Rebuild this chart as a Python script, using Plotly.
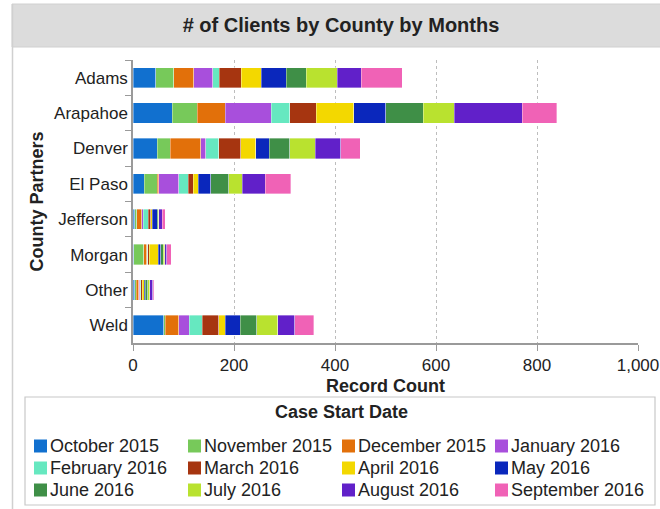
import plotly.graph_objects as go

counties = ["Adams", "Arapahoe", "Denver", "El Paso", "Jefferson", "Morgan", "Other", "Weld"]
months = ["October 2015", "November 2015", "December 2015", "January 2016",
          "February 2016", "March 2016", "April 2016", "May 2016",
          "June 2016", "July 2016", "August 2016", "September 2016"]

oct_2015 = [45, 78, 48, 22, 3, 1, 3, 61]
nov_2015 = [36, 49, 26, 26, 4, 20, 3, 3]
dec_2015 = [39, 56, 60, 3, 10, 6, 5, 27]
jan_2016 = [38, 91, 10, 40, 3, 1, 2, 20]
feb_2016 = [13, 36, 26, 18, 10, 1, 2, 26]
mar_2016 = [43, 53, 43, 10, 5, 3, 3, 33]
apr_2016 = [40, 74, 30, 10, 3, 18, 4, 13]
may_2016 = [49, 63, 27, 25, 10, 5, 2, 29]
jun_2016 = [40, 75, 40, 36, 2, 5, 5, 33]
jul_2016 = [61, 61, 51, 26, 1, 3, 4, 42]
aug_2016 = [48, 135, 50, 46, 7, 4, 6, 33]
sep_2016 = [81, 68, 39, 50, 6, 9, 2, 38]

series = [oct_2015, nov_2015, dec_2015, jan_2016, feb_2016, mar_2016,
          apr_2016, may_2016, jun_2016, jul_2016, aug_2016, sep_2016]

colors = ["#1170cf", "#77c95a", "#e2700a", "#a84fdc", "#66e8c0", "#a63510",
          "#f3d800", "#0a27bc", "#3f8f47", "#b9e22f", "#6120c9", "#f062b6"]

x_ticks = [0, 200, 400, 600, 800, 1000]
x_tick_labels = ["0", "200", "400", "600", "800", "1,000"]

W, H = 660, 509
ML, MR, MT, MB = 133, 22, 60, 166
PW, PH = W - ML - MR, H - MT - MB


def px_x(p):
    return (p - ML) / PW


def px_y(p):
    return (H - MB - p) / PH


FONT = "Liberation Sans, Arial, sans-serif"
TXT = "#222222"

fig = go.Figure()
for name, vals, col in zip(months, series, colors):
    fig.add_trace(go.Bar(
        y=counties, x=vals, name=name, orientation="h", showlegend=False,
        marker=dict(color=col, line=dict(width=0.6, color="rgba(255,255,255,0.6)")),
    ))

shapes = [
    dict(type="rect", xref="paper", yref="paper",
         x0=px_x(12), x1=px_x(662), y0=px_y(47), y1=px_y(4),
         fillcolor="#dcdcdc", line=dict(color="#d0d0d0", width=1), layer="below"),
    dict(type="line", xref="paper", yref="paper",
         x0=px_x(12.5), x1=px_x(12.5), y0=px_y(4), y1=px_y(512),
         line=dict(color="#d0d0d0", width=1.5)),
    # legend frame
    dict(type="rect", xref="paper", yref="paper",
         x0=px_x(25), x1=px_x(655), y0=px_y(505), y1=px_y(397),
         fillcolor="white", line=dict(color="#c8c8c8", width=1.2), layer="below"),
]

annotations = [
    dict(text="<b>Case Start Date</b>", xref="paper", yref="paper",
         x=px_x(341), y=px_y(412), xanchor="center", yanchor="middle",
         showarrow=False, font=dict(size=18, color=TXT)),
]

# custom legend laid out 4 columns x 3 rows (row-major)
col_text_x = [49, 203, 357, 510]
row_y = [446, 468, 490]
for i, (name, col) in enumerate(zip(months, colors)):
    r, c = divmod(i, 4)
    tx, ty = col_text_x[c], row_y[r]
    shapes.append(dict(type="rect", xref="paper", yref="paper",
                       x0=px_x(tx - 15), x1=px_x(tx - 2),
                       y0=px_y(ty + 6.5), y1=px_y(ty - 6.5),
                       fillcolor=col, line=dict(width=0)))
    annotations.append(dict(text=name, xref="paper", yref="paper",
                            x=px_x(tx - 1), y=px_y(ty), xanchor="left", yanchor="middle",
                            showarrow=False, font=dict(size=18, color=TXT)))

fig.update_layout(
    width=W, height=H,
    margin=dict(l=ML, r=MR, t=MT, b=MB, autoexpand=False),
    paper_bgcolor="white", plot_bgcolor="white",
    barmode="stack", bargap=0.43,
    font=dict(family=FONT, size=17, color=TXT),
    title=dict(text="<b># of Clients by County by Months</b>",
               x=341 / W, xanchor="center", y=1 - 25 / H, yanchor="middle",
               font=dict(size=20, color=TXT)),
    shapes=shapes,
    annotations=annotations,
    showlegend=False,
    xaxis=dict(range=[0, 1000], tickvals=x_ticks, ticktext=x_tick_labels,
               showgrid=True, gridcolor="#bdbdbd", griddash="dot", gridwidth=1,
               showline=True, linecolor="#9a9a9a", linewidth=1.5,
               ticks="outside", ticklen=6, tickcolor="#9a9a9a",
               tickfont=dict(size=17, color=TXT), zeroline=False,
               title=dict(text="<b>Record Count</b>", font=dict(size=18), standoff=5)),
    yaxis=dict(categoryorder="array", categoryarray=counties, autorange="reversed",
               showline=True, linecolor="#9a9a9a", linewidth=1.5,
               ticks="outside", ticklen=6, tickcolor="#9a9a9a", tickson="boundaries",
               tickfont=dict(size=17, color=TXT), showgrid=False,
               title=dict(text="<b>County Partners</b>", font=dict(size=18), standoff=6)),
)

fig.write_html("out.html", config={"displayModeBar": False},
               post_script="document.body.style.margin='0';")
